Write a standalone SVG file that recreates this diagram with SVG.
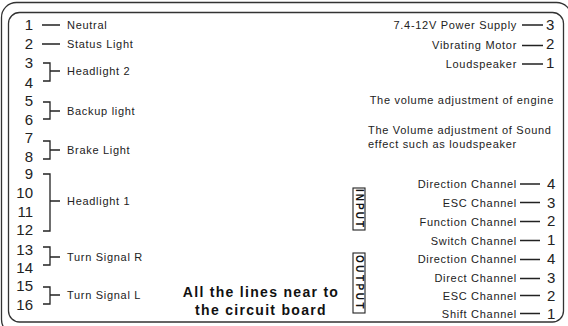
<svg xmlns="http://www.w3.org/2000/svg" width="568" height="326" viewBox="0 0 568 326">
<style>
.frame{fill:none;stroke:#333;stroke-width:1.3}
.ln{fill:none;stroke:#222;stroke-width:1.3}
.num{font-family:"Liberation Sans",Arial,sans-serif;font-size:15px;fill:#222}
.lbl{font-family:"Liberation Sans",Arial,sans-serif;font-size:11px;letter-spacing:0.7px;fill:#222}
.big{font-family:"Liberation Sans",Arial,sans-serif;font-size:14px;font-weight:bold;letter-spacing:1.3px;fill:#111}
.box{font-family:"Liberation Sans",Arial,sans-serif;font-size:10px;font-weight:bold;fill:#111}
</style>
<rect width="568" height="326" fill="#fff"/>
<g id="frame">
<rect class="frame" x="1.5" y="2.5" width="570" height="332" rx="15"/>
<rect class="frame" x="8.5" y="12.5" width="555" height="309.5" rx="11"/>
</g>
<g id="connectors">
<path class="ln" d="M42 25H60M42 44H60"/>
<path class="ln" d="M43 63H50V81H43M50 71H60"/>
<path class="ln" d="M43 102H50V119H43M50 111H60"/>
<path class="ln" d="M43 141H50V159H43M50 150H60"/>
<path class="ln" d="M43 174H50V231H43M50 201H60"/>
<path class="ln" d="M43 247H50V265H43M50 257H60"/>
<path class="ln" d="M43 287H50V304H43M50 295H60"/>
<path class="ln" d="M522 25H543M522 45.5H543M522 64H543"/>
<path class="ln" d="M520 184H540M520 202.5H540M520 221.5H540M520 240.5H540M520 259.5H540M520 278.5H540M520 295.5H540M520 313.5H540"/>
</g>
<g id="left-numbers" class="num" text-anchor="end">
<text x="33" y="30">1</text>
<text x="33" y="49">2</text>
<text x="33" y="68">3</text>
<text x="33" y="88">4</text>
<text x="33" y="106">5</text>
<text x="33" y="125">6</text>
<text x="33" y="143">7</text>
<text x="33" y="162">8</text>
<text x="33" y="179">9</text>
<text x="33" y="198">10</text>
<text x="33" y="217">11</text>
<text x="33" y="235">12</text>
<text x="33" y="255">13</text>
<text x="33" y="273">14</text>
<text x="33" y="291">15</text>
<text x="33" y="310">16</text>
</g>
<g id="left-labels" class="lbl">
<text x="67" y="28.5">Neutral</text>
<text x="67" y="48">Status Light</text>
<text x="67" y="74.5">Headlight 2</text>
<text x="67" y="114.5">Backup light</text>
<text x="67" y="153.5">Brake Light</text>
<text x="67" y="205">Headlight 1</text>
<text x="67" y="260.5">Turn Signal R</text>
<text x="67" y="299">Turn Signal L</text>
</g>
<g id="right-top" >
<g class="lbl" text-anchor="end">
<text x="517" y="28.5">7.4-12V Power Supply</text>
<text x="517" y="49">Vibrating Motor</text>
<text x="517" y="67.5">Loudspeaker</text>
<text x="554" y="104">The volume adjustment of engine</text>
</g>
<g class="lbl">
<text x="368" y="134">The Volume adjustment of Sound</text>
<text x="368" y="148">effect such as loudspeaker</text>
</g>
<g class="num">
<text x="546" y="30">3</text>
<text x="546" y="49">2</text>
<text x="546" y="68">1</text>
</g>
</g>
<g id="input-box">
<rect x="353" y="188" width="12" height="42" fill="none" stroke="#222" stroke-width="1.1"/>
<text class="box" transform="translate(359 209) rotate(90)" text-anchor="middle" dominant-baseline="central" letter-spacing="2">INPUT</text>
</g>
<g id="output-box">
<rect x="353" y="253" width="12" height="60" fill="none" stroke="#222" stroke-width="1.1"/>
<text class="box" transform="translate(359 283) rotate(90)" text-anchor="middle" dominant-baseline="central" letter-spacing="2.5">OUTPUT</text>
</g>
<g id="right-channels">
<g class="lbl" text-anchor="end">
<text x="517" y="188">Direction Channel</text>
<text x="517" y="206.5">ESC Channel</text>
<text x="517" y="225.5">Function Channel</text>
<text x="517" y="244.5">Switch Channel</text>
<text x="517" y="263">Direction Channel</text>
<text x="517" y="282">Direct Channel</text>
<text x="517" y="299.5">ESC Channel</text>
<text x="517" y="317.5">Shift Channel</text>
</g>
<g class="num">
<text x="547" y="189">4</text>
<text x="547" y="207.5">3</text>
<text x="547" y="226">2</text>
<text x="547" y="245">1</text>
<text x="547" y="264">4</text>
<text x="547" y="283">3</text>
<text x="547" y="300.5">2</text>
<text x="547" y="318.5">1</text>
</g>
</g>
<g id="note" class="big" text-anchor="middle">
<text x="261" y="297">All the lines near to</text>
<text x="261" y="315">the circuit board</text>
</g>
</svg>
